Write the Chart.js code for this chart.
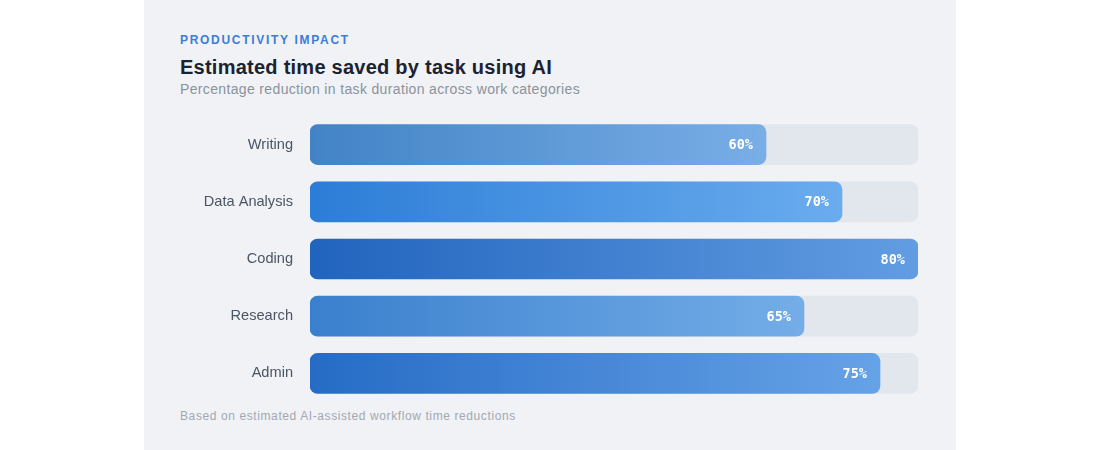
<!DOCTYPE html>
<html>
<head>
<meta charset="utf-8">
<script src="https://cdn.jsdelivr.net/npm/chart.js@4/dist/chart.umd.min.js"></script>
<style>
  body { margin: 0; background: #ffffff; width: 1100px; height: 450px; overflow: hidden; font-family: "Liberation Sans", Arial, sans-serif; }
  .card { position: absolute; left: 144px; top: 0; width: 812px; height: 450px; background: #f0f2f6; }
  .eyebrow { position: absolute; left: 36px; top: 33px; font-size: 12px; line-height: 14px; font-weight: bold; letter-spacing: 1.7px; color: #3b7dd8; }
  .title { position: absolute; left: 36px; top: 55px; font-size: 20px; line-height: 24px; font-weight: bold; color: #1b2230; letter-spacing: 0.25px; }
  .subtitle { position: absolute; left: 36px; top: 80px; font-size: 14px; line-height: 18px; color: #8b929c; letter-spacing: 0.35px; }
  .footer { position: absolute; left: 36px; top: 408px; font-size: 12px; line-height: 16px; color: #a3a8b0; letter-spacing: 0.6px; }
  .chart-box { position: absolute; left: 36px; top: 116px; width: 738px; height: 286px; }
</style>
</head>
<body>
<div class="card">
  <div class="eyebrow">PRODUCTIVITY IMPACT</div>
  <div class="title">Estimated time saved by task using AI</div>
  <div class="subtitle">Percentage reduction in task duration across work categories</div>
  <div class="chart-box"><canvas id="myChart"></canvas></div>
  <div class="footer">Based on estimated AI-assisted workflow time reductions</div>
</div>
<script>
// data
const categories = ['Writing', 'Data Analysis', 'Coding', 'Research', 'Admin'];
const timeSaved = [60, 70, 80, 65, 75];
const scaleMax = 80;

// gradient colours per bar (left -> right)
const startColors = ['#4283c6', '#2c7dd7', '#2164be', '#3a80cd', '#266cc6'];
const endColors = ['#79aee6', '#6aacee', '#629de2', '#74ade8', '#66a2e6'];

function barGradient(ctx) {
  const chart = ctx.chart;
  const area = chart.chartArea;
  if (!area || ctx.type !== 'data') return startColors[0];
  const x = chart.scales.x;
  const x0 = x.getPixelForValue(0);
  const x1 = x.getPixelForValue(timeSaved[ctx.dataIndex]);
  const g = chart.ctx.createLinearGradient(x0, 0, x1, 0);
  g.addColorStop(0, startColors[ctx.dataIndex]);
  g.addColorStop(1, endColors[ctx.dataIndex]);
  return g;
}

// white value labels inside the bar end
const valueLabels = {
  id: 'valueLabels',
  afterDatasetsDraw(chart) {
    const meta = chart.getDatasetMeta(0);
    const c = chart.ctx;
    c.save();
    c.font = 'bold 13.5px "DejaVu Sans Mono", monospace';
    c.fillStyle = '#ffffff';
    c.textAlign = 'right';
    c.textBaseline = 'middle';
    meta.data.forEach((bar, i) => {
      c.fillText(timeSaved[i] + '%', bar.x - 13, bar.y + 1);
    });
    c.restore();
  }
};

new Chart(document.getElementById('myChart'), {
  type: 'bar',
  data: {
    labels: categories,
    datasets: [
      {
        data: timeSaved,
        backgroundColor: barGradient,
        borderRadius: 8,
        borderSkipped: false,
        barThickness: 40,
        grouped: false,
        order: 0
      },
      {
        data: categories.map(() => scaleMax),
        backgroundColor: '#e2e6ed',
        borderRadius: 8,
        borderSkipped: false,
        barThickness: 40,
        grouped: false,
        order: 1
      }
    ]
  },
  options: {
    indexAxis: 'y',
    responsive: true,
    maintainAspectRatio: false,
    animation: false,
    layout: { padding: 0 },
    plugins: { legend: { display: false }, tooltip: { enabled: false } },
    scales: {
      x: { display: false, min: 0, max: scaleMax },
      y: {
        grid: { display: false, drawTicks: false },
        border: { display: false },
        afterFit(axis) {
          axis.width = 130;
          axis.paddingTop = 0;
          axis.paddingBottom = 0;
        },
        ticks: {
          padding: 17,
          color: '#4b5563',
          font: { family: '"Liberation Sans", Arial, sans-serif', size: 14.6 }
        }
      }
    }
  },
  plugins: [valueLabels]
});
</script>
</body>
</html>
